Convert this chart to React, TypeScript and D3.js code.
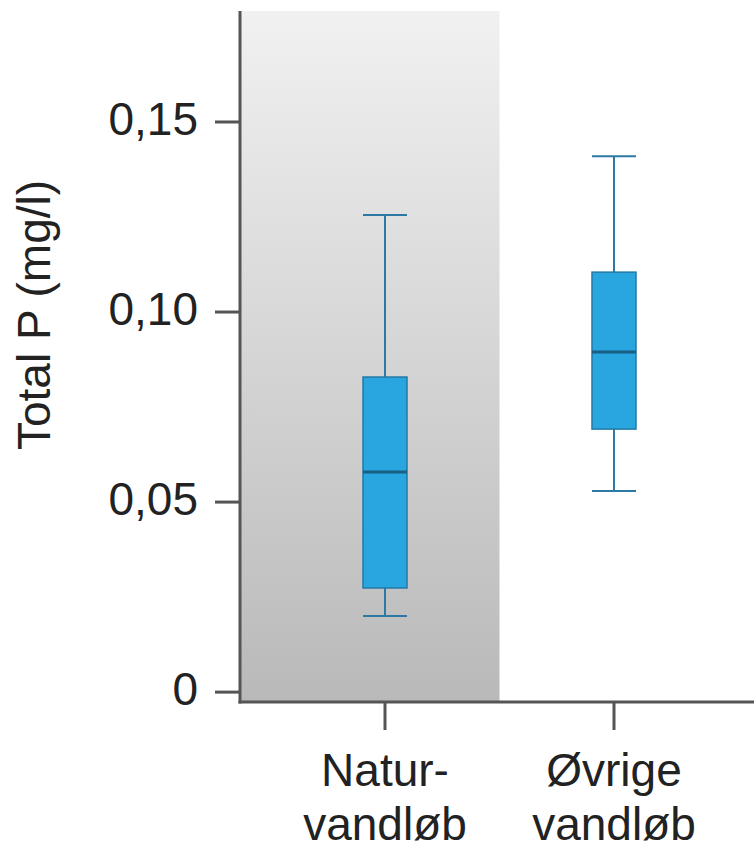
import { scaleBand, scaleLinear } from 'd3';

// Boxplot of total phosphorus in Danish streams
const categories = ['Natur-vandløb', 'Øvrige vandløb'];
const categoryLines = [['Natur-', 'vandløb'], ['Øvrige', 'vandløb']];
const whiskerLow = [0.020, 0.0529];
const q1 = [0.0274, 0.0692];
const median = [0.0579, 0.0895];
const q3 = [0.0829, 0.1105];
const whiskerHigh = [0.1255, 0.141];
const yTicks = [0, 0.05, 0.1, 0.15];
const yTickLabels = ['0', '0,05', '0,10', '0,15'];
const yTitle = 'Total P (mg/l)';

const W = 754;
const H = 849;
const FONT = '"Liberation Sans", Arial, sans-serif';

export default function App() {
  const y = scaleLinear().domain([-0.0026, 0.1792]).range([702, 11]);
  const x = scaleBand<string>().domain(categories).range([270.5, 728.5]).padding(0);
  const left = 240;
  const boxW = 44;

  return (
    <svg width={W} height={H} style={{ position: 'absolute', left: 0, top: 0, background: '#fff' }}>
      <defs>
        <linearGradient id="bg" x1="0" y1="0" x2="0" y2="1">
          <stop offset="0" stopColor="#f1f1f1" />
          <stop offset="1" stopColor="#b9b9b9" />
        </linearGradient>
      </defs>

      {/* shaded natural-stream region */}
      <rect x={left} y={y(0.1792)} width={(x(categories[1]) ?? 0) - left} height={y(-0.0026) - y(0.1792)} fill="url(#bg)" />

      {categories.map((c, i) => {
        const cx = (x(c) ?? 0) + x.bandwidth() / 2;
        return (
          <g key={c}>
            <line x1={cx} x2={cx} y1={y(whiskerHigh[i])} y2={y(q3[i])} stroke="#2c7aa3" strokeWidth={2} />
            <line x1={cx} x2={cx} y1={y(q1[i])} y2={y(whiskerLow[i])} stroke="#2c7aa3" strokeWidth={2} />
            <line x1={cx - boxW / 2} x2={cx + boxW / 2} y1={y(whiskerHigh[i])} y2={y(whiskerHigh[i])} stroke="#2c7aa3" strokeWidth={2} />
            <line x1={cx - boxW / 2} x2={cx + boxW / 2} y1={y(whiskerLow[i])} y2={y(whiskerLow[i])} stroke="#2c7aa3" strokeWidth={2} />
            <rect x={cx - boxW / 2} y={y(q3[i])} width={boxW} height={y(q1[i]) - y(q3[i])} fill="#29a6df" stroke="#2379a6" strokeWidth={1.5} />
            <line x1={cx - boxW / 2} x2={cx + boxW / 2} y1={y(median[i])} y2={y(median[i])} stroke="#1a5f86" strokeWidth={3} />
          </g>
        );
      })}

      {/* y axis */}
      <line x1={left} x2={left} y1={y(0.1792)} y2={y(-0.0026) + 1.5} stroke="#555" strokeWidth={3} />
      {yTicks.map((t, i) => (
        <g key={t}>
          <line x1={left - 25} x2={left} y1={y(t)} y2={y(t)} stroke="#555" strokeWidth={3} />
          <text x={left - 42} y={y(t) + 13} textAnchor="end" fontFamily={FONT} fontSize={46} fill="#222">
            {yTickLabels[i]}
          </text>
        </g>
      ))}

      {/* x axis */}
      <line x1={left - 1.5} x2={W} y1={y(-0.0026)} y2={y(-0.0026)} stroke="#555" strokeWidth={3} />
      {categories.map((c, i) => {
        const cx = (x(c) ?? 0) + x.bandwidth() / 2;
        return (
          <g key={c}>
            <line x1={cx} x2={cx} y1={y(-0.0026)} y2={y(-0.0026) + 28} stroke="#555" strokeWidth={3} />
            {categoryLines[i].map((ln, j) => (
              <text key={j} x={cx} y={786 + j * 54} textAnchor="middle" fontFamily={FONT} fontSize={46} fill="#222">
                {ln}
              </text>
            ))}
          </g>
        );
      })}

      <text transform="translate(50,315) rotate(-90)" textAnchor="middle" fontFamily={FONT} fontSize={46} fill="#222">
        {yTitle}
      </text>
    </svg>
  );
}
